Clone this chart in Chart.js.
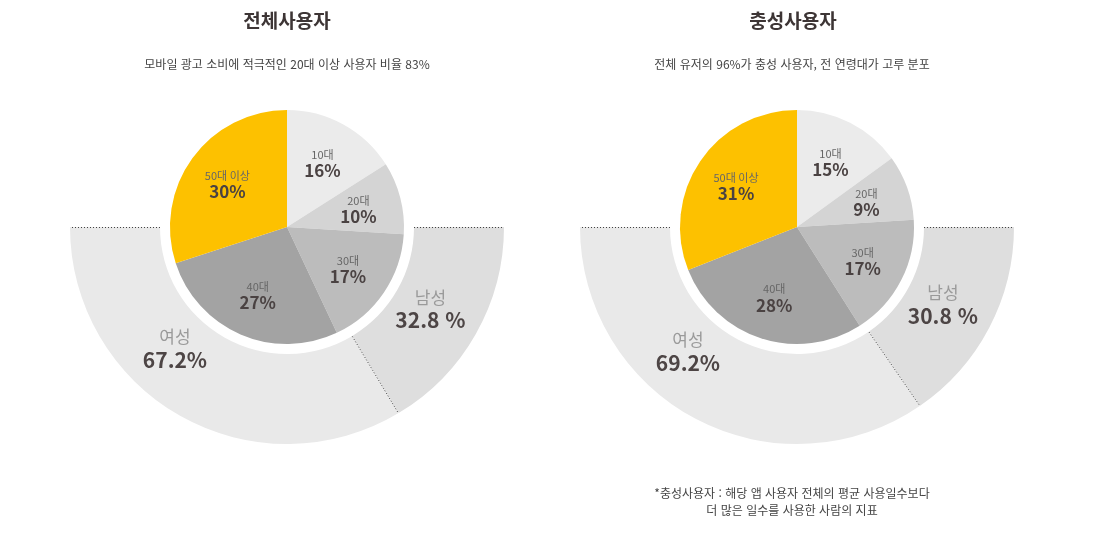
<!DOCTYPE html>
<html lang="ko">
<head>
<meta charset="utf-8">
<script src="https://cdn.jsdelivr.net/npm/chart.js@4.4.1/dist/chart.umd.min.js"></script>
<style>
html,body{margin:0;padding:0;background:#fff;}
body{width:1100px;height:541px;position:relative;overflow:hidden;font-family:"Noto Sans CJK KR","Noto Sans",sans-serif;}
.title{position:absolute;top:10px;transform:translateX(-50%);font-size:19px;font-weight:700;color:#3d3535;white-space:nowrap;line-height:20px;z-index:2;}
.sub{position:absolute;top:57px;transform:translateX(-50%);font-size:12px;color:#444;white-space:nowrap;line-height:14px;z-index:2;}
.note{position:absolute;top:484px;transform:translateX(-50%);font-size:12px;color:#444;white-space:nowrap;line-height:17px;text-align:center;z-index:2;}
canvas{position:absolute;top:0;}
</style>
</head>
<body>
<div class="title" id="t1" style="left:287px"></div>
<div class="sub" id="s1" style="left:287px"></div>
<div class="title" id="t2" style="left:793px"></div>
<div class="sub" id="s2" style="left:792px"></div>
<div class="note" id="n2" style="left:792px"></div>
<canvas id="c1" width="550" height="541" style="left:0;width:550px;height:541px"></canvas>
<canvas id="c2" width="550" height="541" style="left:550px;width:550px;height:541px"></canvas>
<script>
// ---- data ----
const chartTitles = ['전체사용자', '충성사용자'];
const chartSubtitles = ['모바일 광고 소비에 적극적인 20대 이상 사용자 비율 83%', '전체 유저의 96%가 충성 사용자, 전 연령대가 고루 분포'];
const footnoteLines = ['*충성사용자 : 해당 앱 사용자 전체의 평균 사용일수보다', '더 많은 일수를 사용한 사람의 지표'];
const ageLabels = ['10대', '20대', '30대', '40대', '50대 이상'];
const allAgeShares = [16, 10, 17, 27, 30];
const loyalAgeShares = [15, 9, 17, 28, 31];
const genderLabels = ['남성', '여성'];
const allGenderShares = [32.8, 67.2];
const loyalGenderShares = [30.8, 69.2];
const genderPctSuffix = [' %', '%'];

// ---- styles ----
const ageColors = ['#ebebeb', '#d4d4d4', '#bcbcbc', '#a3a3a3', '#fdc100'];
const genderColors = ['#dedede', '#e9e9e9'];
const FONT = '"Noto Sans CJK KR", "Noto Sans", sans-serif';

document.getElementById('t1').textContent = chartTitles[0];
document.getElementById('t2').textContent = chartTitles[1];
document.getElementById('s1').textContent = chartSubtitles[0];
document.getElementById('s2').textContent = chartSubtitles[1];
document.getElementById('n2').innerHTML = footnoteLines.join('<br>');

const sliceLabelPlugin = {
  id: 'sliceLabels',
  afterDatasetsDraw(chart) {
    const ctx = chart.ctx;
    ctx.save();
    ctx.textAlign = 'center';
    ctx.textBaseline = 'middle';
    // age pie labels
    const pieDs = chart.data.datasets[2];
    chart.getDatasetMeta(2).data.forEach((arc, i) => {
      const p = arc.getProps(['x', 'y', 'startAngle', 'endAngle', 'outerRadius'], true);
      const mid = (p.startAngle + p.endAngle) / 2;
      const r = p.outerRadius * 0.63;
      const cx = p.x + Math.cos(mid) * r, cy = p.y + Math.sin(mid) * r;
      ctx.font = '11px ' + FONT; ctx.fillStyle = '#666';
      ctx.fillText(pieDs.sliceNames[i], cx, cy - 8);
      ctx.font = 'bold 17px ' + FONT; ctx.fillStyle = '#4a4242';
      ctx.fillText(pieDs.data[i] + '%', cx, cy + 8);
    });
    // gender ring labels + dotted edges
    const gDs = chart.data.datasets[0];
    const edges = [];
    let geo = null;
    chart.getDatasetMeta(0).data.forEach((arc, i) => {
      const p = arc.getProps(['x', 'y', 'startAngle', 'endAngle', 'innerRadius', 'outerRadius'], true);
      geo = p;
      if (i === 0) edges.push(p.startAngle);
      edges.push(p.endAngle);
      const frac = gDs.labelAt[i];
      const a = p.startAngle + (p.endAngle - p.startAngle) * frac;
      const r = p.innerRadius + (p.outerRadius - p.innerRadius) * 0.42;
      const cx = p.x + Math.cos(a) * r, cy = p.y + Math.sin(a) * r;
      ctx.font = '17px ' + FONT; ctx.fillStyle = '#9a9a9a';
      ctx.fillText(gDs.sliceNames[i], cx, cy - 11);
      ctx.font = 'bold 21px ' + FONT; ctx.fillStyle = '#4d4545';
      ctx.fillText(gDs.data[i].toFixed(1) + gDs.pctSuffix[i], cx, cy + 12);
    });
    ctx.setLineDash([1, 2]);
    ctx.strokeStyle = '#444';
    ctx.lineWidth = 1;
    edges.forEach(a => {
      ctx.beginPath();
      ctx.moveTo(geo.x + Math.cos(a) * geo.innerRadius, geo.y + Math.sin(a) * geo.innerRadius + 0.5);
      ctx.lineTo(geo.x + Math.cos(a) * geo.outerRadius, geo.y + Math.sin(a) * geo.outerRadius + 0.5);
      ctx.stroke();
    });
    ctx.restore();
  }
};

function makeChart(id, ageShares, genderShares, padding) {
  return new Chart(document.getElementById(id), {
    type: 'pie',
    data: {
      labels: ageLabels,
      datasets: [
        {
          data: genderShares,
          sliceNames: genderLabels,
          pctSuffix: genderPctSuffix,
          labelAt: [0.5, 0.61],
          backgroundColor: genderColors,
          hoverBackgroundColor: genderColors,
          borderWidth: 0,
          rotation: 90,
          circumference: 180,
          weight: 90
        },
        {
          data: [1],
          backgroundColor: ['rgba(0,0,0,0)'],
          hoverBackgroundColor: ['rgba(0,0,0,0)'],
          borderWidth: 0,
          weight: 10
        },
        {
          data: ageShares,
          sliceNames: ageLabels,
          backgroundColor: ageColors,
          hoverBackgroundColor: ageColors,
          borderWidth: 0,
          weight: 117
        }
      ]
    },
    options: {
      responsive: false,
      animation: false,
      events: [],
      spacing: 0,
      layout: { padding: padding },
      plugins: { legend: { display: false }, tooltip: { enabled: false }, title: { display: false } }
    },
    plugins: [sliceLabelPlugin]
  });
}

makeChart('c1', allAgeShares, allGenderShares, { left: 70, right: 46, top: 10, bottom: 97 });
makeChart('c2', loyalAgeShares, loyalGenderShares, { left: 30, right: 86, top: 10, bottom: 97 });
</script>
</body>
</html>
